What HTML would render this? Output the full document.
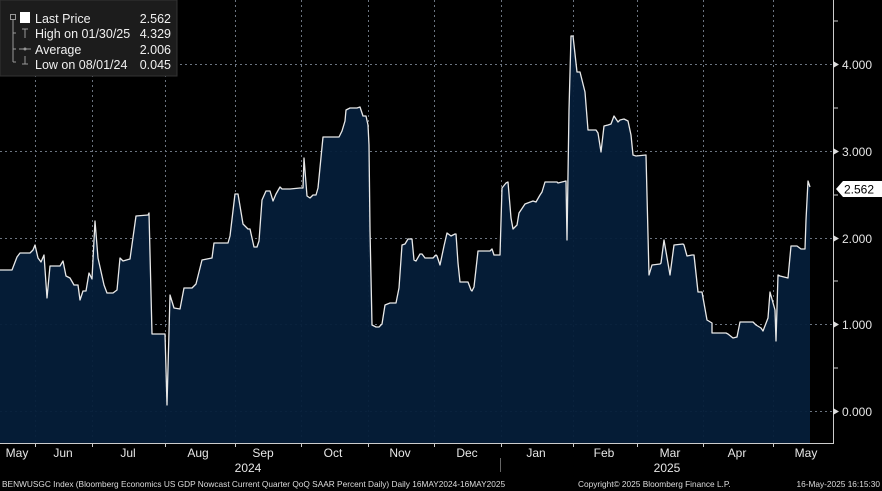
<!DOCTYPE html>
<html><head><meta charset="utf-8"><style>
html,body{margin:0;padding:0;background:#000;}
body{width:882px;height:491px;overflow:hidden;position:relative;font-family:"Liberation Sans",sans-serif;}
</style></head><body>
<svg width="882" height="491" xmlns="http://www.w3.org/2000/svg" style="position:absolute;left:0;top:0">
<rect width="882" height="491" fill="#000"/>
<g stroke="#6b7480" stroke-width="1" stroke-dasharray="2,3">
<line x1="0" y1="64.5" x2="833" y2="64.5"/>
<line x1="0" y1="151.5" x2="833" y2="151.5"/>
<line x1="0" y1="238.5" x2="833" y2="238.5"/>
<line x1="0" y1="324.5" x2="833" y2="324.5"/>
<line x1="0" y1="411.5" x2="833" y2="411.5"/>
<line x1="35.5" y1="0" x2="35.5" y2="443"/><line x1="92.5" y1="0" x2="92.5" y2="443"/>
<line x1="165.5" y1="0" x2="165.5" y2="443"/><line x1="235.5" y1="0" x2="235.5" y2="443"/>
<line x1="301.5" y1="0" x2="301.5" y2="443"/><line x1="368.5" y1="0" x2="368.5" y2="443"/>
<line x1="434.5" y1="0" x2="434.5" y2="443"/><line x1="501.5" y1="0" x2="501.5" y2="443"/>
<line x1="573.5" y1="0" x2="573.5" y2="443"/><line x1="637.5" y1="0" x2="637.5" y2="443"/>
<line x1="703.5" y1="0" x2="703.5" y2="443"/><line x1="773.5" y1="0" x2="773.5" y2="443"/>
</g>
<path id="d" fill="#051d39" fill-opacity="0.95" stroke="none" d="M0,443 L0,270 L12,270 L17,257 L20,253 L30,253 L33,250 L35,245 L38,258 L41,262 L44,255 L47,298 L50,266 L60,266 L63,261 L66,276 L70,278 L74,285 L78,285 L80,300 L83,291 L86,291 L89,273 L92,279 L95,221 L98,258 L104,285 L107,293 L113,293 L117,290 L120,258 L123,261 L130,259 L136,216 L148,215 L149,213 L152,334 L165,334 L167,405 L170,295 L174,308 L180,309 L184,288 L192,288 L196,284 L202,260 L212,258 L214,243 L228,243 L230,236 L235,194 L238,194 L243,224 L248,229 L250,229 L254,247 L257,247 L259,241 L262,200 L266,191 L270,191 L273,201 L276,194 L280,187 L282,189 L290,189 L300,188 L303,188 L304,158 L307,196 L310,198 L313,195 L316,195 L318,188 L323,137 L339,137 L342,131 L345,121 L346,110 L350,108 L357,108 L360,107 L363,116 L366,116 L368,125 L369,145 L370,230 L372,325 L376,327 L379,327 L382,324 L385,305 L390,303 L396,303 L399,288 L402,245 L405,244 L408,239 L412,239 L414,260 L416,261 L420,254 L422,254 L425,258 L433,258 L436,255 L437,256 L440,265 L444,246 L447,233 L451,236 L455,234 L456,234 L458,263 L460,282 L468,282 L471,290 L472,291 L474,287 L478,251 L490,251 L492,249 L494,255 L500,255 L502,188 L506,183 L508,182 L511,218 L513,229 L517,225 L519,213 L525,204 L533,201 L536,202 L540,195 L542,192 L545,182 L557,182 L558,183 L566,181 L567,240 L569,110 L571,36 L573,36 L577,72 L580,72 L585,92 L588,130 L596,130 L598,133 L601,152 L604,126 L608,125 L611,124 L614,116 L618,122 L620,120 L624,119 L628,121 L631,135 L633,155 L636,156 L646,155 L649,275 L652,265 L660,264 L661,263 L664,240 L670,275 L674,245 L683,244 L684,245 L687,256 L692,255 L694,255 L698,292 L702,292 L707,320 L712,323 L712,333 L726,333 L728,334 L733,338 L737,337 L740,322 L753,322 L756,325 L761,328 L763,331 L768,318 L770,292 L775,310 L776,341 L778,275 L780,276 L788,278 L791,246 L797,246 L801,249 L805,249 L806,220 L808,181 L810,187 L810,443 Z"/>
<polyline fill="none" stroke="#e8e8e8" stroke-width="1.3" stroke-linejoin="round" points="0,270 12,270 17,257 20,253 30,253 33,250 35,245 38,258 41,262 44,255 47,298 50,266 60,266 63,261 66,276 70,278 74,285 78,285 80,300 83,291 86,291 89,273 92,279 95,221 98,258 104,285 107,293 113,293 117,290 120,258 123,261 130,259 136,216 148,215 149,213 152,334 165,334 167,405 170,295 174,308 180,309 184,288 192,288 196,284 202,260 212,258 214,243 228,243 230,236 235,194 238,194 243,224 248,229 250,229 254,247 257,247 259,241 262,200 266,191 270,191 273,201 276,194 280,187 282,189 290,189 300,188 303,188 304,158 307,196 310,198 313,195 316,195 318,188 323,137 339,137 342,131 345,121 346,110 350,108 357,108 360,107 363,116 366,116 368,125 369,145 370,230 372,325 376,327 379,327 382,324 385,305 390,303 396,303 399,288 402,245 405,244 408,239 412,239 414,260 416,261 420,254 422,254 425,258 433,258 436,255 437,256 440,265 444,246 447,233 451,236 455,234 456,234 458,263 460,282 468,282 471,290 472,291 474,287 478,251 490,251 492,249 494,255 500,255 502,188 506,183 508,182 511,218 513,229 517,225 519,213 525,204 533,201 536,202 540,195 542,192 545,182 557,182 558,183 566,181 567,240 569,110 571,36 573,36 577,72 580,72 585,92 588,130 596,130 598,133 601,152 604,126 608,125 611,124 614,116 618,122 620,120 624,119 628,121 631,135 633,155 636,156 646,155 649,275 652,265 660,264 661,263 664,240 670,275 674,245 683,244 684,245 687,256 692,255 694,255 698,292 702,292 707,320 712,323 712,333 726,333 728,334 733,338 737,337 740,322 753,322 756,325 761,328 763,331 768,318 770,292 775,310 776,341 778,275 780,276 788,278 791,246 797,246 801,249 805,249 806,220 808,181 810,187"/>
<!-- axes -->
<line x1="833.5" y1="0" x2="833.5" y2="444" stroke="#ccc" stroke-width="1"/>
<line x1="0" y1="443.5" x2="834" y2="443.5" stroke="#ccc" stroke-width="1"/>
<g fill="#ddd"><path d="M833,61 l6,3.5 l-6,3.5z"/><path d="M833,148 l6,3.5 l-6,3.5z"/><path d="M833,235 l6,3.5 l-6,3.5z"/><path d="M833,321 l6,3.5 l-6,3.5z"/><path d="M833,408 l6,3.5 l-6,3.5z"/></g>
<g stroke="#ccc"><line x1="833" y1="21" x2="838" y2="21"/><line x1="833" y1="108" x2="838" y2="108"/><line x1="833" y1="195" x2="838" y2="195"/><line x1="833" y1="281" x2="838" y2="281"/><line x1="833" y1="368" x2="838" y2="368"/></g>
<g fill="#e6e6e6" font-size="12" font-family="Liberation Sans,sans-serif">
<text x="842" y="69">4.000</text><text x="842" y="156">3.000</text><text x="842" y="243">2.000</text><text x="842" y="329">1.000</text><text x="842" y="416">0.000</text>
</g>
<path d="M836,189 L843,181 L882,181 L882,197 L843,197 Z" fill="#fff"/>
<text x="844" y="193.5" font-size="12" fill="#000">2.562</text>
<!-- x ticks -->
<g stroke="#ccc"><line x1="35.5" y1="443" x2="35.5" y2="447"/><line x1="92.5" y1="443" x2="92.5" y2="447"/><line x1="165.5" y1="443" x2="165.5" y2="447"/><line x1="235.5" y1="443" x2="235.5" y2="447"/><line x1="301.5" y1="443" x2="301.5" y2="447"/><line x1="368.5" y1="443" x2="368.5" y2="447"/><line x1="434.5" y1="443" x2="434.5" y2="447"/><line x1="501.5" y1="443" x2="501.5" y2="447"/><line x1="573.5" y1="443" x2="573.5" y2="447"/><line x1="637.5" y1="443" x2="637.5" y2="447"/><line x1="703.5" y1="443" x2="703.5" y2="447"/><line x1="773.5" y1="443" x2="773.5" y2="447"/>
<line x1="500.5" y1="458" x2="500.5" y2="472" stroke="#666"/></g>
<g fill="#e6e6e6" font-size="12" text-anchor="middle">
<text x="17" y="457">May</text><text x="63" y="457">Jun</text><text x="128" y="457">Jul</text><text x="198" y="457">Aug</text><text x="263" y="457">Sep</text><text x="333" y="457">Oct</text><text x="400" y="457">Nov</text><text x="467" y="457">Dec</text><text x="536" y="457">Jan</text><text x="604" y="457">Feb</text><text x="670" y="457">Mar</text><text x="737" y="457">Apr</text><text x="806" y="457">May</text>
<text x="248" y="472">2024</text><text x="667" y="472">2025</text>
</g>
<g fill="#ddd" font-size="8.3">
<text x="2" y="487">BENWUSGC Index (Bloomberg Economics US GDP Nowcast Current Quarter QoQ SAAR Percent Daily)  Daily 16MAY2024-16MAY2025</text>
<text x="578" y="487">Copyright© 2025 Bloomberg Finance L.P.</text>
<text x="880" y="487" text-anchor="end">16-May-2025 16:15:30</text>
</g>
<!-- legend -->
<rect x="0" y="0" width="177" height="76" fill="#1c1c1c" stroke="#333"/>
<g stroke="#999" fill="none"><rect x="10.5" y="14.5" width="5" height="5"/><line x1="13" y1="20" x2="13" y2="62"/><line x1="13" y1="33" x2="16" y2="33"/><line x1="13" y1="49" x2="16" y2="49"/><line x1="13" y1="62" x2="16" y2="62"/>
<line x1="25" y1="29" x2="25" y2="38"/><line x1="22" y1="29" x2="28" y2="29"/><line x1="19" y1="49" x2="31" y2="49"/><line x1="25" y1="56" x2="25" y2="64"/><line x1="22" y1="64" x2="28" y2="64"/></g>
<circle cx="25" cy="49" r="1.5" fill="#999"/>
<rect x="20" y="12" width="10" height="11" fill="#fff"/>
<g fill="#f0f0f0" font-size="12.5">
<text x="35" y="23">Last Price</text><text x="35" y="38">High on 01/30/25</text><text x="35" y="54">Average</text><text x="35" y="69">Low on 08/01/24</text>
<text x="171" y="23" text-anchor="end">2.562</text><text x="171" y="38" text-anchor="end">4.329</text><text x="171" y="54" text-anchor="end">2.006</text><text x="171" y="69" text-anchor="end">0.045</text>
</g>
</svg>
</body></html>
